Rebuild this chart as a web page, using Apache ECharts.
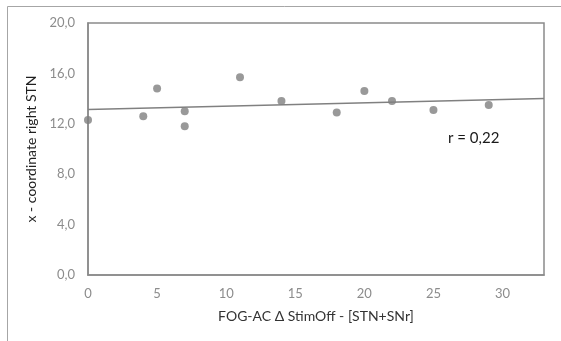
<!DOCTYPE html>
<html>
<head>
<meta charset="utf-8">
<script src="https://cdn.jsdelivr.net/npm/echarts@6/dist/echarts.min.js"></script>
<style>
  html, body { margin: 0; padding: 0; background: #fff; }
  #chart { width: 561px; height: 341px; }
</style>
</head>
<body>
<div id="chart"></div>
<script>
// FOG-AC change (StimOff vs STN+SNr) against right STN x-coordinate
const fogDelta = [0, 4, 5, 7, 7, 11, 14, 18, 20, 22, 25, 29];
const xCoordRightSTN = [12.3, 12.6, 14.8, 13.0, 11.8, 15.7, 13.8, 12.9, 14.6, 13.8, 13.1, 13.5];
const yTicks = [0, 4, 8, 12, 16, 20];
const xTicks = [0, 5, 10, 15, 20, 25, 30];
const xMax = 33;
const rLabel = 'r = 0,22';

// least-squares trend line through the points
function linearFit(xs, ys) {
  const n = xs.length;
  const mx = xs.reduce((a, b) => a + b, 0) / n;
  const my = ys.reduce((a, b) => a + b, 0) / n;
  let sxy = 0, sxx = 0;
  for (let i = 0; i < n; i++) {
    sxy += (xs[i] - mx) * (ys[i] - my);
    sxx += (xs[i] - mx) * (xs[i] - mx);
  }
  const slope = sxy / sxx;
  return { slope, intercept: my - slope * mx };
}
const fit = linearFit(fogDelta, xCoordRightSTN);
const trend = [[0, fit.intercept], [xMax, fit.intercept + fit.slope * xMax]];

const points = fogDelta.map((x, i) => [x, xCoordRightSTN[i]]);
const FONT = 'Lato, "Open Sans", sans-serif';

const chart = echarts.init(document.getElementById('chart'), null, { renderer: 'canvas' });
chart.setOption({
  animation: false,
  backgroundColor: '#ffffff',
  grid: {
    left: 88, top: 23, right: 17, bottom: 66,
    show: true, borderColor: '#8a8a8a', borderWidth: 1.5, backgroundColor: 'transparent'
  },
  xAxis: {
    type: 'value', min: 0, max: xMax, interval: 5,
    axisLine: { show: true, lineStyle: { color: '#8a8a8a', width: 1.5 } },
    axisTick: { show: false },
    splitLine: { show: false },
    axisLabel: {
      color: '#8c8c8c', fontFamily: FONT, fontSize: 13, margin: 12,
      formatter: v => xTicks.includes(v) ? String(v) : '',
      showMaxLabel: false
    },
    name: 'FOG-AC \u0394 StimOff - [STN+SNr]',
    nameLocation: 'middle', nameGap: 34,
    nameTextStyle: { color: '#333333', fontFamily: FONT, fontSize: 14 }
  },
  yAxis: {
    type: 'value', min: 0, max: 20, interval: 4,
    axisLine: { show: true, lineStyle: { color: '#8a8a8a', width: 1.5 } },
    axisTick: { show: false },
    splitLine: { show: false },
    axisLabel: {
      color: '#8c8c8c', fontFamily: FONT, fontSize: 13, margin: 13,
      formatter: v => yTicks.includes(v) ? v.toFixed(1).replace('.', ',') : ''
    },
    name: 'x - coordinate right STN',
    nameLocation: 'middle', nameGap: 45,
    nameTextStyle: { color: '#1f1f1f', fontFamily: FONT, fontSize: 14 }
  },
  graphic: [
    {
      type: 'rect', silent: true,
      shape: { x: 7.5, y: 6.5, width: 600, height: 400 },
      style: { fill: 'none', stroke: '#a6a6a6', lineWidth: 1 }
    },
    {
      type: 'text', left: 448, top: 131,
      style: { text: rLabel, fill: '#1a1a1a', font: '15px ' + FONT }
    }
  ],
  series: [
    {
      type: 'line', data: trend, symbol: 'none',
      lineStyle: { color: '#808080', width: 1.3 }, z: 2
    },
    {
      type: 'scatter', data: points, symbol: 'circle', symbolSize: 8,
      itemStyle: { color: '#7f7f7f' }, z: 3
    }
  ]
});
</script>
</body>
</html>
